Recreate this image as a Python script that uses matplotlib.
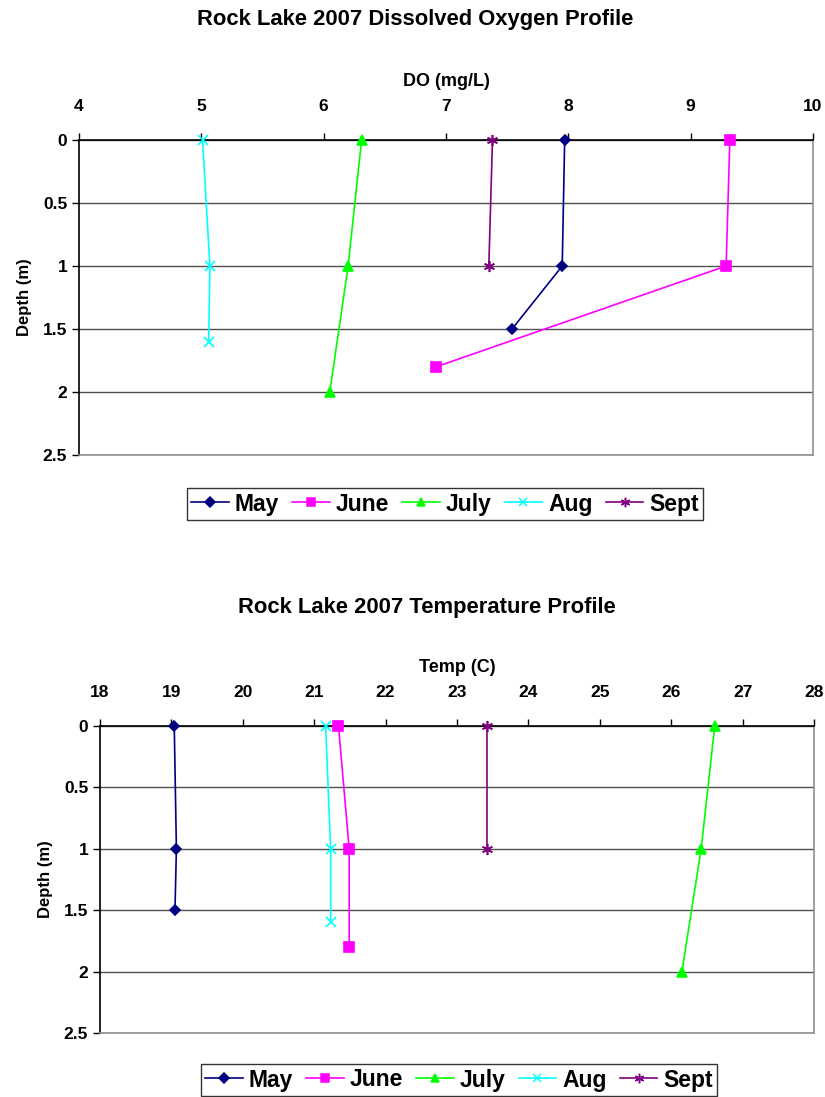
import matplotlib.pyplot as plt
from matplotlib.lines import Line2D

plt.rcParams['font.family'] = ['Liberation Sans', 'DejaVu Sans']
plt.rcParams['font.weight'] = 'bold'

meses = ["May", "June", "July", "Aug", "Sept"]
cores = ["#000080", "#FF00FF", "#00FF00", "#00FFFF", "#800080"]
marcadores = ["D", "s", "^", "x", (6, 2, 0)]
tamanhos = [5.5, 6.5, 7.5, 7.5, 8]

# Profundidades de cada mês (m)
prof_may = [0, 1, 1.5]
prof_june = [0, 1, 1.8]
prof_july = [0, 1, 2]
prof_aug = [0, 1, 1.6]
prof_sept = [0, 1]

# Oxigênio dissolvido (mg/L)
do_may = [7.97, 7.95, 7.54]
do_june = [9.32, 9.29, 6.92]
do_july = [6.31, 6.20, 6.05]
do_aug = [5.01, 5.07, 5.06]
do_sept = [7.38, 7.35]

# Temperatura (C)
temp_may = [19.04, 19.07, 19.05]
temp_june = [21.34, 21.49, 21.49]
temp_july = [26.61, 26.42, 26.15]
temp_aug = [21.16, 21.23, 21.23]
temp_sept = [23.42, 23.42]

profs = [prof_may, prof_june, prof_july, prof_aug, prof_sept]
do_vals = [do_may, do_june, do_july, do_aug, do_sept]
temp_vals = [temp_may, temp_june, temp_july, temp_aug, temp_sept]

W, H = 825, 1097
fig = plt.figure(figsize=(W/100, H/100), dpi=100)


def perfil(ret, valores, xlim, xlabel, titulo, titulo_xy, leg_centro):
    x0, y0, x1, y1 = ret
    ax = fig.add_axes([x0/W, 1-y1/H, (x1-x0)/W, (y1-y0)/H])
    for prof, val, cor, mk, ms, nome in zip(profs, valores, cores, marcadores, tamanhos, meses):
        ax.plot(val, prof, color=cor, marker=mk, markersize=ms, lw=1.2,
                markeredgewidth=1.2, label=nome, zorder=3, clip_on=False)
    ax.set_xlim(*xlim)
    ax.set_xticks(range(xlim[0], xlim[1]+1))
    ax.set_ylim(2.5, 0)
    ax.set_yticks([0, 0.5, 1, 1.5, 2, 2.5])
    ax.set_yticklabels(["0", "0.5", "1", "1.5", "2", "2.5"])
    ax.xaxis.tick_top()
    ax.xaxis.set_label_position('top')
    ax.set_xlabel(xlabel, fontsize=13, fontweight='bold', labelpad=9)
    ax.set_ylabel("Depth (m)", fontsize=12, fontweight='bold', labelpad=8)
    ax.tick_params(axis='both', labelsize=12.5, width=1, length=5, color='black')
    ax.tick_params(axis='x', pad=14)
    for lab in ax.get_xticklabels() + ax.get_yticklabels():
        lab.set_fontweight('bold')
    ax.grid(axis='y', color='#505050', lw=1)
    ax.spines['top'].set_color('black')
    ax.spines['left'].set_color('black')
    ax.spines['right'].set_color('#909090')
    ax.spines['bottom'].set_color('#909090')
    for s in ax.spines.values():
        s.set_linewidth(1.2)
    fig.text(titulo_xy[0]/W, 1-titulo_xy[1]/H, titulo, ha='center', va='center',
             fontsize=15.8, fontweight='bold')
    handles = [Line2D([], [], color=c, marker=m, markersize=s*0.85, lw=1.2, markeredgewidth=1.1)
               for c, m, s in zip(cores, marcadores, tamanhos)]
    leg = fig.legend(handles, meses, loc='center',
                     bbox_to_anchor=(leg_centro[0]/W, 1-leg_centro[1]/H),
                     ncol=5, fontsize=16.5, frameon=True, fancybox=False,
                     handlelength=1.65, handletextpad=0.25, columnspacing=0.57,
                     borderpad=0.2, borderaxespad=0)
    leg.get_frame().set_edgecolor('black')
    leg.get_frame().set_linewidth(1)
    for t in leg.get_texts():
        t.set_fontweight('bold')
    return ax


perfil((79, 140, 813, 455), do_vals, (4, 10), "DO (mg/L)",
       "Rock Lake 2007 Dissolved Oxygen Profile", (415, 20), (445, 504))
perfil((100, 726, 814, 1033), temp_vals, (18, 28), "Temp (C)",
       "Rock Lake 2007 Temperature Profile", (427, 608), (459, 1080))

fig.savefig("out.png", dpi=100)
